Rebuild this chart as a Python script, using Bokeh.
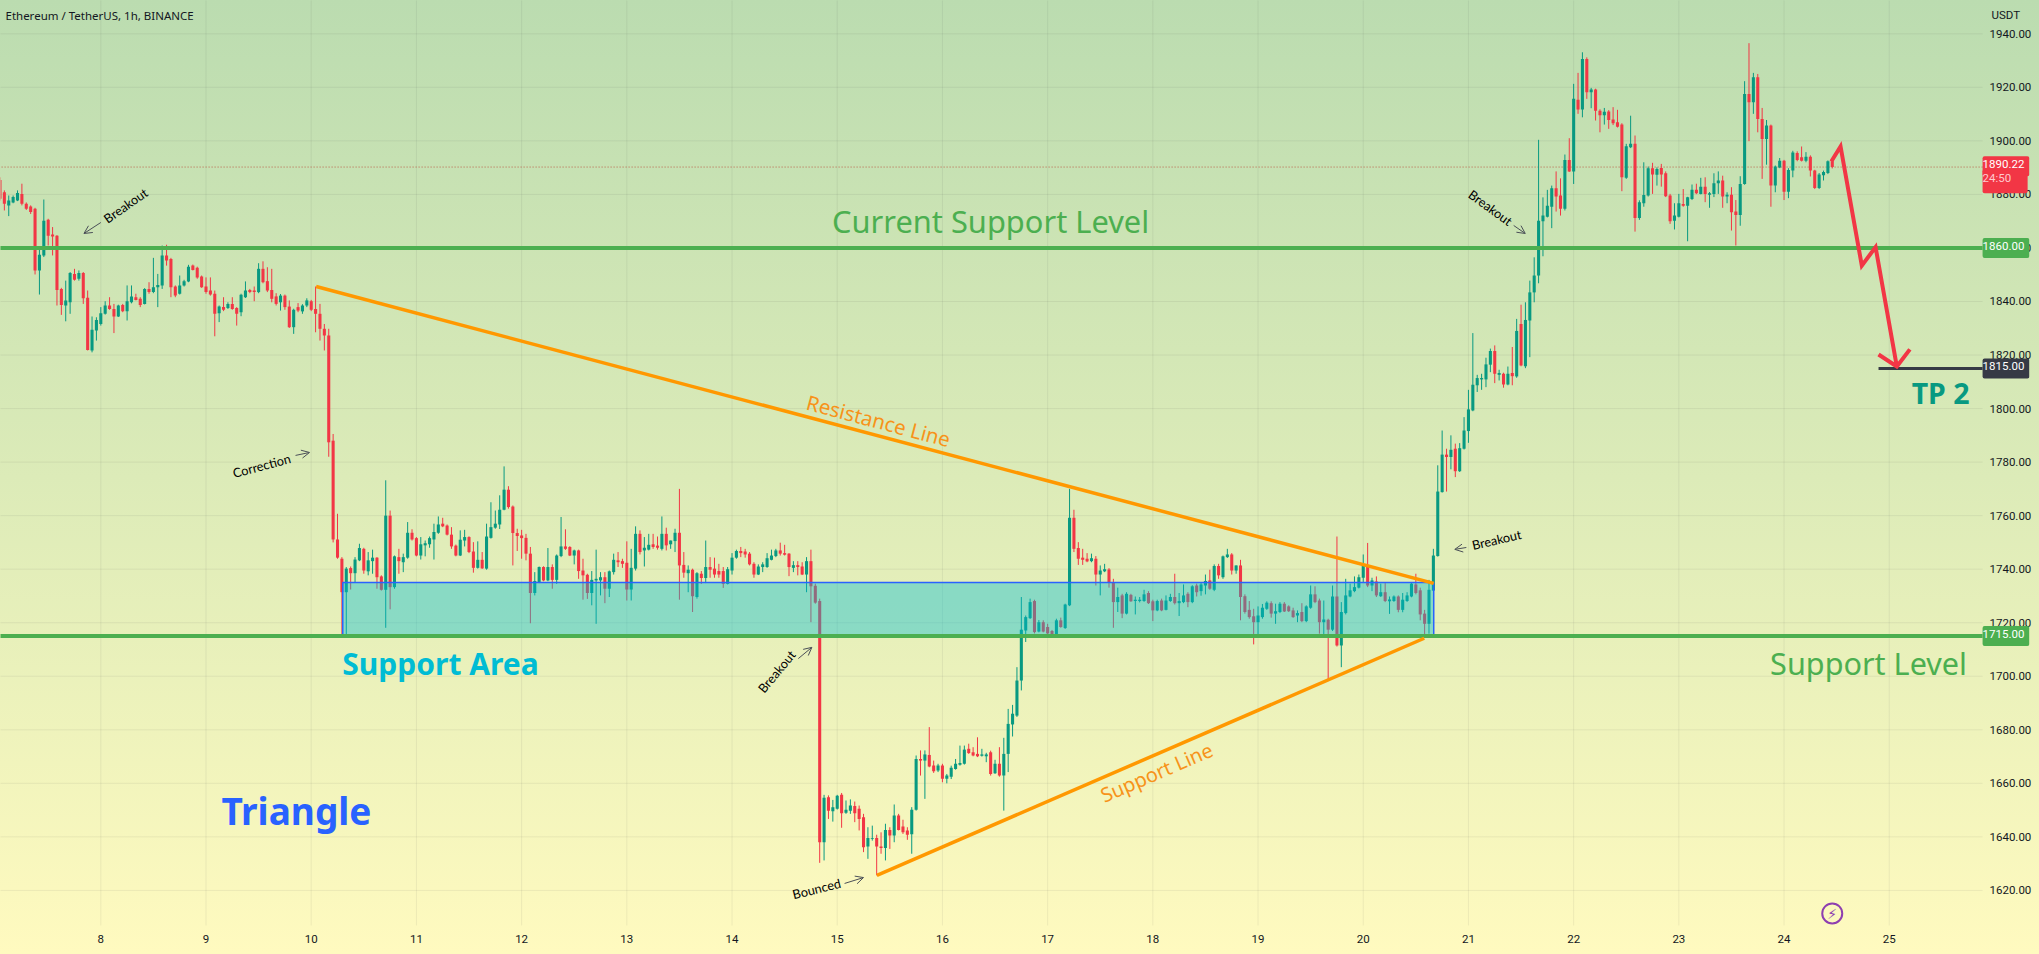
from bokeh.plotting import figure
from bokeh.embed import file_html
from bokeh.resources import INLINE
from bokeh.core.properties import value
from bokeh.models import ColumnDataSource, FixedTicker, Label, Arrow, OpenHead, CustomJSTickFormatter

# hourly candles (open, high, low, close), one list per calendar day
day_07 = [(1885.4,1886.4,1877.7,1878.4),(1880.8,1881.5,1874,1876.5),(1875.9,1879.6,1871.9,1877.7),(1877,1879.6,1876.7,1879),(1877.7,1881.5,1877.5,1880.5),(1880.2,1884,1875.9,1876.5),(1876.5,1877,1874.2,1874.6),(1875.5,1875.9,1872.7,1873.4),(1874.6,1875,1850.1,1851.6),(1851.6,1860.3,1842.6,1857.5),(1857.2,1878.1,1856.6,1870.2),(1870.5,1870.9,1860.9,1864.6),(1865,1867.8,1857.2,1864.3),(1864.6,1864.8,1838.5,1844.3),(1844.7,1845.1,1835,1838.7),(1838.5,1847.8,1832.6,1840.4),(1839.7,1851,1835.4,1850.6),(1850.3,1852.2,1847.8,1848.1),(1848.5,1851.6,1847.8,1850.6),(1850.6,1851,1839.1,1841.2),(1841.4,1844.1,1821.7,1821.9),(1821.7,1834.4,1821,1829.4),(1829.2,1834.1,1825.4,1833.1)]
day_08 = [(1831.6,1837.9,1831,1835.6),(1835.4,1840.1,1835.1,1838.5),(1838.5,1841.6,1836.9,1837.2),(1837.2,1839.1,1828.2,1834.4),(1834.4,1838.8,1834.2,1838.5),(1838.7,1839.1,1836,1836.4),(1836.4,1846,1832.9,1840.1),(1839.7,1846,1839.3,1841.9),(1841.6,1842.9,1840.4,1840.6),(1841,1841.6,1837.9,1838.7),(1839.1,1845,1838.9,1844.7),(1844.7,1847.2,1842.9,1843.5),(1843.5,1856.3,1843.1,1845.3),(1845.3,1850.3,1837.9,1846.2),(1846,1860.9,1844.7,1857.2),(1857.2,1861.2,1853.4,1855.3),(1855.9,1856.3,1841.6,1845.3),(1845.6,1846,1841.6,1842.2),(1842.9,1849.7,1842.6,1846),(1846,1848.1,1845.6,1847.6),(1847.5,1853.7,1847.2,1853),(1853.4,1853.8,1851.6,1851.8),(1852.6,1853,1848.5,1849),(1849.3,1849.7,1845.1,1845.3)]
day_09 = [(1845.6,1849,1842.9,1843.5),(1844.1,1849,1842.2,1842.6),(1842.9,1844.1,1827,1835.4),(1835.6,1838.5,1832.3,1838.1),(1837.9,1841.6,1836.4,1836.9),(1837.6,1839.7,1837.2,1839.1),(1839.1,1841.6,1836.9,1837.2),(1837.6,1837.9,1831,1835.4),(1836,1842.9,1834.5,1842.5),(1841.6,1847.5,1841.3,1844.1),(1844.3,1844.7,1843.1,1843.5),(1844.1,1845.6,1840.1,1843.5),(1843.5,1854.3,1843.1,1852.2),(1852.2,1855,1846.8,1847.2),(1847.6,1852.8,1843.5,1844.1),(1844.3,1852.2,1839.7,1841),(1841.9,1843.1,1838.5,1839.1),(1839.7,1842.8,1836.6,1842.2),(1842.2,1842.6,1836.9,1837.9),(1838.1,1840.4,1830.1,1830.4),(1830.4,1837.3,1827.9,1836.9),(1837.9,1839.4,1836,1836.6),(1836.3,1839,1835.4,1838.5),(1838.5,1841.2,1837.9,1840.4)]
day_10 = [(1840.1,1840.6,1836.4,1836.9),(1837.2,1845.6,1828.5,1835.4),(1835.4,1839.1,1825.4,1829.8),(1829.8,1831.6,1821.7,1827.3),(1827.3,1829.8,1782,1787.4),(1788,1790.5,1750,1751.1),(1751.1,1760.7,1743.9,1744.3),(1743.9,1744.5,1714.6,1731.4),(1731.4,1740.8,1714.6,1740.2),(1740.4,1741,1732.4,1738.5),(1738.5,1744.5,1735.2,1743.6),(1743.3,1749.5,1743,1747.9),(1747.6,1748,1738.3,1739.5),(1739.2,1746.4,1737.7,1743.3),(1743,1747.3,1738.3,1744.3),(1744.3,1744.5,1732.7,1737),(1737.3,1737.7,1732,1732.3),(1732.3,1773.2,1718.1,1760),(1760,1761.9,1725,1733.3),(1733.3,1745.1,1732.7,1744.8),(1744.5,1747.6,1738.3,1743),(1742.6,1745.8,1738.9,1744.5),(1744.3,1757.6,1743.9,1753.6),(1753.6,1754.9,1750.7,1751.1)]
day_11 = [(1751.6,1752,1744.8,1745.1),(1745.1,1752,1743.6,1749.3),(1748.9,1750.7,1744.8,1749.7),(1749.3,1752.2,1748,1751.6),(1751.1,1757,1743.6,1753.9),(1753.6,1759.7,1753.2,1756.7),(1757,1759.2,1755.7,1756),(1756.3,1756.7,1752.6,1752.9),(1752.9,1755.7,1747.6,1748.5),(1748.8,1749.2,1744.8,1745.1),(1745.1,1754.5,1744.9,1751),(1750.7,1754.7,1748.5,1752),(1752,1752.3,1746,1746.4),(1746.6,1750.1,1738.7,1740.5),(1740.5,1750.4,1740.2,1743.5),(1743.5,1746.4,1740.1,1740.3),(1740.2,1757,1739.8,1752.2),(1751.7,1765,1751.4,1755.7),(1755.5,1761.9,1755.1,1757),(1756.7,1767.6,1755,1762.2),(1762.2,1778.4,1762,1769.7),(1769.7,1771,1762.6,1763.2),(1763.4,1763.8,1741.4,1753.5),(1753.5,1755.1,1746.8,1752.4)]
day_12 = [(1752.6,1754.7,1743.9,1751.6),(1751.7,1753.2,1743.3,1745.8),(1745.8,1748.3,1719.8,1731.1),(1731.1,1738.9,1730.2,1735.6),(1735.2,1741,1734.8,1740.8),(1740.8,1741.1,1735.5,1735.8),(1735.8,1747.9,1735.5,1740.8),(1740.8,1741.8,1732.7,1736),(1736,1745.5,1734.5,1745.1),(1744.9,1759.5,1744.5,1748.5),(1748.5,1754.9,1747.2,1747.6),(1748.3,1748.6,1744.9,1745.1),(1745.1,1747.3,1741.8,1747),(1747,1747.3,1736.4,1739.3),(1739.5,1743.9,1728.6,1737.7),(1737.9,1738.3,1728.9,1731.1),(1731.1,1739.3,1726.5,1736),(1735.8,1747.3,1719.6,1736.4),(1735.8,1738.9,1730.2,1737),(1737,1738.9,1727.3,1732.7),(1732.7,1739.5,1729.6,1739.2),(1738.9,1745.8,1738,1743.5),(1743.3,1746.4,1740.8,1742.6),(1743,1743.9,1740.5,1742)]
day_13 = [(1742.4,1750.4,1728.3,1732.4),(1732.4,1747.6,1728.3,1740.5),(1740.2,1756,1739.5,1753.2),(1753.2,1754.5,1745.5,1746.4),(1747,1752,1741,1748),(1747.3,1753.2,1747,1749.1),(1749.3,1753.2,1747.6,1748.3),(1748.8,1752.2,1747.3,1748),(1747.6,1759.7,1747,1753.2),(1753.2,1755.5,1747,1748.9),(1749.3,1750.7,1747.6,1750.7),(1750.5,1755.1,1746.4,1753.6),(1753.6,1770,1728.6,1741.4),(1741.6,1746.4,1736.8,1738.7),(1738.5,1741.4,1731.4,1739.8),(1739.8,1740.2,1724,1729.9),(1729.6,1738.9,1729,1738.5),(1738.3,1739.3,1734.5,1736.7),(1736.7,1750.7,1734.8,1740.8),(1740.8,1744.5,1736.8,1739.8),(1740.2,1744.3,1736.8,1738),(1739.3,1742,1736.8,1738),(1739.3,1740.8,1733,1734.5),(1734.5,1740.8,1734.3,1740)]
day_14 = [(1739.5,1746,1738,1744.3),(1744.3,1747.3,1743.9,1746.8),(1746.8,1748.3,1744.5,1746),(1746.6,1747.6,1744.3,1745.5),(1745.8,1746.4,1741.4,1741.8),(1742,1742.6,1736.8,1738),(1738,1741.8,1737.8,1741),(1740.8,1742.6,1738.9,1741.8),(1740.8,1746,1740.5,1744.1),(1743.5,1747.3,1743.3,1745.1),(1744.9,1747.6,1744.5,1747),(1747,1749.9,1745.1,1745.8),(1746,1749.1,1745.1,1745.4),(1745.8,1746,1737.4,1740.8),(1740.5,1743,1738.9,1741.5),(1741.5,1743,1737.7,1740.8),(1741,1742.6,1737.8,1738),(1738,1744.5,1731.4,1743),(1743,1747.3,1720.2,1733.6),(1733.8,1734.6,1727.1,1727.5),(1728.1,1729,1630.3,1638),(1638,1655.7,1631.2,1654.6),(1654.8,1655.5,1646.7,1649.8),(1649.6,1653.8,1645.7,1651.1)]
day_15 = [(1650.5,1655.7,1650.2,1655.4),(1655.7,1656.4,1643.4,1648.8),(1649,1653.6,1648.6,1650.1),(1649.8,1654,1648.6,1651.7),(1651.5,1653.2,1645.5,1648.8),(1650.5,1651.7,1642.4,1646.7),(1647.3,1648.6,1634.3,1636.1),(1636.4,1643.6,1631.8,1639.6),(1639.3,1644.2,1638.6,1639.6),(1639.6,1640.8,1625.6,1636.4),(1636.4,1641.7,1633.7,1635.8),(1635.8,1644.9,1631.2,1642.6),(1642.6,1643.6,1635.5,1640.5),(1640.5,1652.1,1638,1648),(1648,1648.6,1642.4,1642.6),(1643.9,1646.4,1641.1,1641.7),(1642.4,1643.6,1638.9,1640.8),(1641,1651.1,1633.7,1650.1),(1650.1,1670.4,1649.8,1669.1),(1669.1,1672.3,1662.9,1668.5),(1668.5,1672.3,1654.2,1670.8),(1670.6,1681,1666,1666.3),(1666.7,1668.5,1663.9,1664.5),(1664.8,1667.3,1664.2,1666.7)]
day_16 = [(1666.7,1667.3,1660.4,1661.7),(1661.7,1663.5,1660,1662.9),(1662.5,1666.6,1661.6,1665.8),(1665.4,1669.1,1665.1,1667.3),(1666.9,1674.1,1666.6,1667.6),(1667.3,1674.1,1667,1672.6),(1672.9,1674.8,1671,1671.3),(1671.6,1673.5,1670.1,1670.4),(1671,1677.2,1669.8,1670.1),(1670.3,1672.9,1670,1670.8),(1670.1,1671.4,1667.9,1670.8),(1671.6,1672.2,1662.9,1663.5),(1663.8,1668.8,1663.5,1667.3),(1667.3,1673.5,1662.5,1662.9),(1662.9,1677,1649.8,1671),(1671,1687.8,1664.2,1682.2),(1682,1689.3,1677.5,1686),(1685.3,1703.4,1684.8,1698.4),(1698.4,1729.6,1694.7,1717.4),(1717.1,1722.7,1712.8,1722.1),(1721.7,1729,1721.4,1727.7),(1728.1,1728.6,1716,1716.5),(1716.7,1721,1716.4,1720.2),(1720.2,1720.9,1716.4,1716.7)]
day_17 = [(1718.4,1719.6,1715.2,1716),(1716.9,1717.3,1714.6,1715),(1715,1721.5,1714.9,1720.9),(1720.9,1721.9,1718.1,1718.4),(1718,1727.1,1717.7,1726.8),(1726.5,1770,1726.2,1759.2),(1759.2,1762.2,1746.4,1747.6),(1747.9,1750.1,1741.6,1743.9),(1744.3,1747.6,1741.6,1743.5),(1743.9,1746,1742.6,1742.9),(1743,1745.8,1742.6,1744.1),(1743.9,1744.9,1733.9,1738),(1738,1741.4,1730.2,1739.5),(1739.2,1742,1738.9,1740),(1739.9,1740.4,1733.1,1734.9),(1734.9,1736.4,1718.1,1727.7),(1727.7,1733.1,1724,1729.6),(1730.2,1730.8,1721.7,1723.4),(1723.4,1731.4,1723.1,1730.8),(1730.4,1730.8,1727.8,1728),(1728.1,1729.8,1723.1,1728.6),(1728.1,1729.6,1727.6,1728.6),(1728.1,1732.3,1727.8,1730.6),(1731.1,1731.8,1727,1727.3)]
day_18 = [(1728,1728.6,1720.6,1724.6),(1724.6,1728.6,1724.3,1728.1),(1728.3,1729,1724.3,1724.6),(1724.8,1730.2,1724.6,1728.3),(1728.1,1730.8,1727.8,1729.6),(1729.6,1738.3,1726.8,1727.3),(1727.3,1731.1,1722.5,1728.1),(1727.7,1734.3,1727.3,1730.2),(1730.8,1731.4,1725.8,1727.7),(1727.7,1734,1727.3,1733.6),(1733.9,1734.6,1729.8,1731.4),(1731.8,1735.2,1730.1,1734.3),(1733.9,1738,1730.6,1735.6),(1735.8,1739.8,1732.3,1732.7),(1732.3,1741.8,1731.8,1741.2),(1741.2,1742,1736.4,1737.7),(1737,1745.1,1736.4,1744.8),(1744.5,1747.6,1744.2,1745.5),(1745.5,1746,1738,1739.5),(1739.5,1741.4,1738.3,1741.4),(1741.4,1743.5,1720.9,1729.6),(1729.9,1730.6,1723.4,1724),(1724.8,1728.1,1721.5,1722.1),(1722.4,1725.2,1711.9,1720.2)]
day_19 = [(1720.2,1726.1,1714.6,1722.7),(1722.1,1727,1721.5,1725.6),(1725.2,1728,1724.8,1727.5),(1727.3,1728,1721.9,1723.4),(1723.4,1727.1,1719.6,1724.3),(1724,1727.7,1723.6,1727.1),(1727.1,1727.7,1724,1724.2),(1726.1,1726.5,1724,1724.3),(1724.6,1725.6,1721.8,1722.1),(1722.7,1724.6,1720.2,1723.6),(1724,1727.3,1720.2,1720.6),(1720.6,1726.5,1720.2,1726.1),(1725.6,1733.9,1725.2,1730.6),(1730.6,1733.6,1727.3,1727.7),(1728.3,1729,1715.9,1720.2),(1720.2,1728.3,1715.3,1721.2),(1721.1,1721.5,1698.4,1717.4),(1717.4,1733.9,1716.9,1729.8),(1729.8,1752.2,1711.1,1711.5),(1711.5,1727.7,1703.4,1724),(1723.6,1736.4,1723.1,1730.2),(1729.8,1734.6,1729.5,1732.1),(1731.8,1737.3,1731.4,1733.3),(1733.1,1738,1732.8,1737)]
day_20 = [(1736.8,1745.5,1735.2,1741.6),(1741.6,1749.8,1733.3,1733.9),(1733.9,1736.8,1731.8,1735.8),(1735.4,1737.3,1729.6,1730.2),(1729.9,1734.6,1729.6,1731.4),(1731.4,1734.8,1727.7,1728.1),(1728,1729.8,1723.3,1728.7),(1728.1,1730.2,1727.8,1729.8),(1729.8,1730.2,1723.9,1724.8),(1724.8,1731.1,1723.9,1728.6),(1728.1,1731.4,1727.8,1730.2),(1729.8,1735.2,1729.5,1734.6),(1734.3,1738.3,1730.6,1731.1),(1732.1,1733.1,1720.9,1723.1),(1723.4,1724.8,1715,1719.6),(1719.6,1736,1715.9,1732.3),(1732,1747.6,1731.8,1745.1),(1744.9,1778.8,1744.7,1769),(1768.8,1791.8,1768.6,1782.8),(1782.8,1785,1769,1781.9),(1781.9,1790,1777.3,1784.6),(1785,1786.9,1774.4,1776.6),(1776.6,1787.1,1776.3,1785.2),(1785,1796.8,1784.7,1791.8)]
day_21 = [(1791.6,1807,1787.2,1799.7),(1799.3,1828.2,1799,1808.9),(1808.7,1812.6,1806.2,1811.4),(1810.9,1813,1807,1811.4),(1810.9,1819,1808,1816.5),(1816.4,1822.4,1813.6,1821.5),(1821.5,1823.6,1809.5,1813),(1812.6,1814.5,1810.5,1813.3),(1813,1813.4,1807.8,1809),(1809,1815.7,1808.7,1813),(1813.3,1823,1808.7,1812.1),(1812,1833.5,1811.5,1829),(1831.6,1838.8,1815.8,1816.1),(1815.8,1839.7,1815.1,1833.1),(1832.9,1847.8,1819.2,1843.4),(1843.4,1856.5,1839.7,1849.7),(1849.7,1900.4,1846.8,1870.2),(1870,1878.9,1856.9,1872.1),(1871.7,1881.7,1871.4,1875.8),(1875.4,1883.3,1867.4,1882.3),(1882.3,1888.6,1873.6,1879.2),(1879.6,1886,1872.1,1874.6),(1874.6,1894.9,1874,1892.9),(1892.9,1901,1888.4,1888.6)]
day_22 = [(1888.6,1921.3,1883.9,1915.7),(1915.4,1925.4,1910.1,1911.7),(1911.7,1933.1,1908.8,1930.6),(1930.6,1931.2,1915.7,1918.2),(1918.2,1919.8,1912.2,1919.2),(1919.2,1919.5,1907.6,1911.3),(1911.3,1911.8,1903.2,1909.6),(1909.6,1912.3,1906.1,1910.9),(1911,1911.5,1904.5,1907.8),(1908,1912.6,1905.9,1906.6),(1907,1911.6,1905,1905.3),(1906.1,1906.6,1881.2,1886.4),(1886.2,1898.9,1885.8,1898),(1897.6,1909.4,1897.3,1898.9),(1898.9,1902,1866.1,1871.2),(1871.2,1877.8,1870.5,1877.1),(1876.7,1892,1875.4,1879.8),(1879.6,1890.4,1879.2,1889.8),(1889.8,1891.8,1880.2,1887.4),(1887.3,1890.1,1883.3,1889.5),(1889.9,1891.4,1882.9,1887.4),(1887.9,1888.6,1879,1879.3),(1879.6,1880.2,1869,1870),(1870.2,1876.7,1866.9,1872.1)]
day_23 = [(1871.7,1880.2,1871.4,1876.7),(1876.4,1882,1875.4,1875.8),(1875.8,1879.1,1862.5,1878.9),(1878.3,1883.7,1877.9,1881.7),(1881.7,1884,1880.1,1880.4),(1880.2,1886.2,1880,1882.9),(1882.9,1886.4,1877.1,1880.2),(1879.9,1880.9,1875,1880.4),(1880.2,1887.9,1879,1884.2),(1884.2,1888.6,1880.2,1885.2),(1885.2,1887,1875,1879.2),(1879.2,1880.8,1876.7,1879.9),(1879.9,1882.7,1866.5,1873.3),(1873.6,1877.9,1860.9,1872.3),(1872.3,1886.8,1868.3,1883.9),(1883.9,1922.3,1883.6,1917.5),(1917.5,1936.5,1899.9,1914.4),(1914.4,1925.4,1910.1,1923.8),(1923.8,1925,1903.2,1908.2),(1908.2,1912.3,1885.8,1900.7),(1900.7,1907.8,1891.1,1905.7),(1905.7,1906.1,1875.4,1883.3),(1883.3,1890.8,1880.8,1890.4),(1890.1,1893.6,1889.8,1892.6)]
day_24 = [(1892.6,1892.9,1877.9,1881),(1881,1889.8,1878.6,1889.1),(1888.9,1896.3,1886.4,1895.7),(1895.5,1896.1,1892.4,1892.9),(1893.9,1897.9,1892.3,1892.6),(1892.6,1895.8,1892,1894.1),(1894.1,1894.6,1886.7,1888.9),(1888.9,1889.2,1882,1882.4),(1882.4,1888,1882,1887.4),(1887.2,1888.9,1885.2,1888.4),(1888,1892.7,1887.6,1892.4),(1892.4,1892.7,1889.7,1890.22)]
candle_days = [(7, day_07, 1), (8, day_08, 0), (9, day_09, 0), (10, day_10, 0), (11, day_11, 0), (12, day_12, 0), (13, day_13, 0), (14, day_14, 0), (15, day_15, 0), (16, day_16, 0), (17, day_17, 0), (18, day_18, 0), (19, day_19, 0), (20, day_20, 0), (21, day_21, 0), (22, day_22, 0), (23, day_23, 0), (24, day_24, 0)]

# axis labels and levels
date_ticks = list(range(8, 26))
price_ticks = list(range(1620, 1941, 20))
support_level = 1715
current_support = 1860
target_level = 1815
last_price = 1890.22
area_left, area_right, area_low, area_high = 10.30, 20.67, 1715, 1735
pane_left, pane_right, pane_low, pane_top = 7.0, 25.887, 1606.9, 1953

# drawn trend lines (day of month, price)
resistance_x = [10.047, 20.67]
resistance_y = [1845.6, 1734.7]
support_x = [15.377, 20.58]
support_y = [1625.6, 1714.2]
forecast_x = [24.449, 24.537, 24.739, 24.87, 25.072]
forecast_y = [1892.3, 1897.9, 1853.4, 1860.3, 1815.7]
head_x = [24.898, 25.072, 25.196]
head_y = [1820.2, 1815.7, 1822.1]

GREEN, RED = "#089981", "#f23645"
LEVEL = "#4caf50"
INK = "#131722"
FONT = "Noto Sans"

xs, o, h, l, c = [], [], [], [], []
for d, rows, first in candle_days:
    for i, (a, b, e, f) in enumerate(rows):
        xs.append(d + (i + first) / 24)
        o.append(a); h.append(b); l.append(e); c.append(f)
color = [GREEN if cc >= oo else RED for oo, cc in zip(o, c)]
src = ColumnDataSource(dict(x=xs, o=o, h=h, l=l, c=c, color=color))

p = figure(width=2039, height=954, frame_width=2029, frame_height=948,
           x_range=(7.0466, 26.333), y_range=(1598.3, 1952.44),
           output_backend="svg", toolbar_location=None, y_axis_location="right",
           min_border=0, min_border_right=10, min_border_bottom=6)
p.background_fill_color = None
p.border_fill_color = None
p.outline_line_color = None
p.styles = {"background": "linear-gradient(180deg,#bbdcb0 0%,#dcebb8 50%,#fffabf 100%)"}

for ax in (p.xaxis[0], p.yaxis[0]):
    ax.axis_line_color = None
    ax.major_tick_line_color = None
    ax.minor_tick_line_color = None
    ax.major_tick_in = 0
    ax.major_tick_out = 0
    ax.minor_tick_in = 0
    ax.minor_tick_out = 0
    ax.major_label_text_color = INK
    ax.major_label_text_font = "Roboto"
    ax.major_label_text_font_size = "11.5px"
p.xaxis[0].ticker = FixedTicker(ticks=date_ticks)
p.yaxis[0].ticker = FixedTicker(ticks=price_ticks)
p.xaxis[0].major_label_standoff = -14
p.yaxis[0].major_label_standoff = -40
p.yaxis[0].formatter = CustomJSTickFormatter(code="return tick.toFixed(2)")
p.xaxis[0].formatter = CustomJSTickFormatter(code="return tick.toFixed(0)")
p.xgrid[0].visible = False
p.ygrid[0].visible = False

# grid stops at the edge of the price pane
p.segment([pane_left] * len(price_ticks), price_ticks, [pane_right] * len(price_ticks), price_ticks,
          line_color="#2a2e39", line_alpha=0.07, line_width=1)
p.segment(date_ticks, [pane_low] * len(date_ticks), date_ticks, [pane_top] * len(date_ticks),
          line_color="#2a2e39", line_alpha=0.07, line_width=1)

# last price
p.line([pane_left, pane_right], [last_price, last_price], line_color="#b5402f", line_width=1, line_dash="1 2", line_alpha=0.8)

# candles
p.segment("x", "h", "x", "l", source=src, line_color="color", line_width=1)
p.vbar(x="x", width=0.7 / 24, top="o", bottom="c", source=src, fill_color="color", line_color=None)

# support area
p.quad(left=[area_left], right=[area_right], bottom=[area_low], top=[area_high],
       fill_color="#00bcd4", fill_alpha=0.4, line_color="#2962ff", line_width=1.5)

# levels
for lvl in (current_support, support_level):
    p.line([pane_left, pane_right], [lvl, lvl], line_color=LEVEL, line_width=4)
p.line([24.898, pane_right], [target_level, target_level], line_color="#363a45", line_width=3)

# trend lines and forecast
p.line(resistance_x, resistance_y, line_color="#ff9800", line_width=3.5)
p.line(support_x, support_y, line_color="#ff9800", line_width=3.5)
p.line(forecast_x, forecast_y, line_color=RED, line_width=4, line_join="miter")
p.line(head_x, head_y, line_color=RED, line_width=4, line_join="miter")

def txt(x, y, s, col, size, angle=0, style="normal", font=FONT):
    p.text([x], [y], text=[s], text_color=col, text_font_size=size, angle=angle, angle_units="deg",
           text_align="center", text_baseline="middle", text_font=value(font), text_font_style=style)

txt(16.458, 1870, "Current Support Level", LEVEL, "30.8px")
txt(24.803, 1704.8, "Support Level", LEVEL, "30.6px")
txt(11.229, 1704.8, "Support Area", "#00bcd4", "30px", style="bold")
txt(9.86, 1649.9, "Triangle", "#2962ff", "37px", style="bold")
txt(25.488, 1806, "TP 2", GREEN, "28.5px", style="bold")
txt(15.393, 1795.5, "Resistance Line", "#f7931a", "20.5px", angle=-14.9)
txt(18.035, 1664.1, "Support Line", "#f7931a", "20px", angle=23.4)

notes = [("Breakout", 8.235, 1875.9, 35), ("Correction", 9.528, 1778.7, 15), ("Breakout", 14.423, 1701.8, 50),
         ("Bounced", 14.803, 1620.7, 14), ("Breakout", 21.267, 1751.1, 13), ("Breakout", 21.21, 1875.1, -36)]
for s, x, y, a in notes:
    txt(x, y, s, "#000000", "12.7px", angle=a, font="Lato")

pointers = [(8.0, 1869.5, 7.84, 1865.4), (9.851, 1782.5, 9.984, 1783.6), (14.63, 1706.6, 14.759, 1710.8),
            (15.07, 1622.6, 15.25, 1624.8), (20.98, 1748.1, 20.87, 1747.4), (21.43, 1868.4, 21.54, 1865.4)]
for x0, y0, x1, y1 in pointers:
    p.add_layout(Arrow(end=OpenHead(size=8, line_width=1, line_color="#4a4f57"), x_start=x0, y_start=y0, x_end=x1, y_end=y1,
                       line_color="#4a4f57", line_width=1))

# flash icon
p.scatter([24.458], [1611.4], size=20, marker="circle", fill_alpha=0, line_color="#8e3fb0", line_width=2)
txt(24.458, 1611.2, "\u26a1", "#8e3fb0", "14px", font="DejaVu Sans")

# header
p.add_layout(Label(x=7.094, y=1946.8, text="Ethereum / TetherUS, 1h, BINANCE", text_font=FONT, text_font_size="11.5px",
                   text_color=INK, text_baseline="middle", text_align="left"))
p.add_layout(Label(x=25.972, y=1947.2, text="USDT", text_font="Roboto", text_font_size="11.5px",
                   text_color=INK, text_baseline="middle", text_align="left"))

def tag(y, s, bg, col="#ffffff", pad=(0, 5, 4, 8)):
    p.add_layout(Label(x=25.887, y=y, text=s, text_font="Roboto", text_font_size="11.5px", text_color=col, text_align="left",
                       text_baseline="middle", background_fill_color=bg, padding=list(pad), border_radius=2, level="overlay"))

tag(1890.5, "1890.22", RED)
tag(1884.9, "24:50    ", RED, "#ffc9ce", pad=(0, 5, 2, 8))
tag(1860, "1860.00", LEVEL)
tag(1715, "1715.00", LEVEL)
tag(1815, "1815.00", "#363a45")

open("out.html", "w").write(file_html(p, INLINE))
